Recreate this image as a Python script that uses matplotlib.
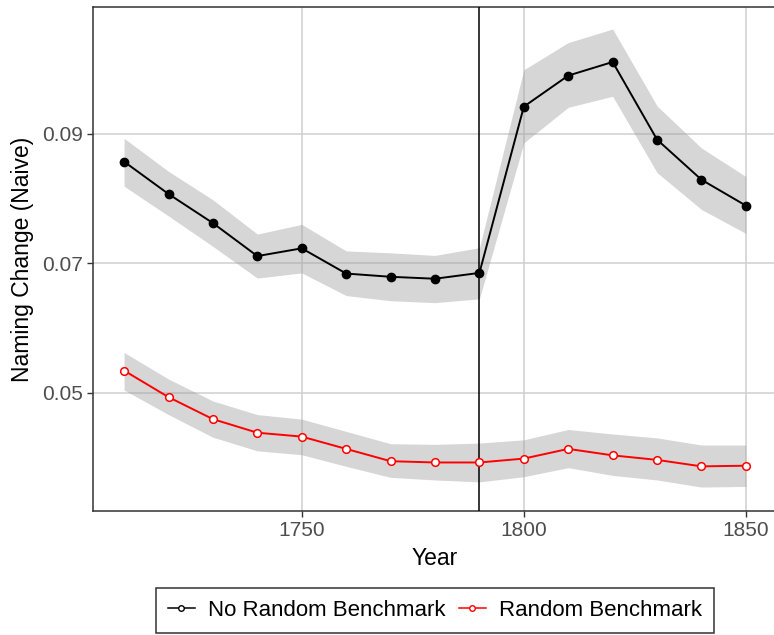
from __future__ import annotations

import matplotlib

matplotlib.use("Agg")
import matplotlib.pyplot as plt
import numpy as np
from matplotlib.lines import Line2D


YEARS = np.arange(1710, 1851, 10)

# Naive naming-change rate, with confidence band, per decade
NO_RANDOM_MEAN = [0.0857, 0.0807, 0.0762, 0.0711, 0.0723, 0.0684, 0.0679, 0.0676,
                  0.0685, 0.0942, 0.0990, 0.1011, 0.0891, 0.0829, 0.0789]
NO_RANDOM_LOW = [0.0819, 0.0773, 0.0726, 0.0677, 0.0685, 0.0650, 0.0642, 0.0639,
                 0.0645, 0.0886, 0.0941, 0.0958, 0.0840, 0.0783, 0.0746]
NO_RANDOM_HIGH = [0.0893, 0.0842, 0.0798, 0.0745, 0.0760, 0.0719, 0.0716, 0.0712,
                  0.0724, 0.0999, 0.1041, 0.1062, 0.0943, 0.0878, 0.0834]

RANDOM_MEAN = [0.0534, 0.0493, 0.0459, 0.0438, 0.0432, 0.0413, 0.0394, 0.0392,
               0.0392, 0.0398, 0.0413, 0.0403, 0.0396, 0.0386, 0.0387]
RANDOM_LOW = [0.0504, 0.0466, 0.0431, 0.0410, 0.0404, 0.0386, 0.0369, 0.0365,
              0.0362, 0.0370, 0.0384, 0.0372, 0.0365, 0.0354, 0.0355]
RANDOM_HIGH = [0.0562, 0.0521, 0.0487, 0.0466, 0.0459, 0.0440, 0.0421, 0.0420,
               0.0422, 0.0427, 0.0443, 0.0436, 0.0430, 0.0419, 0.0419]

BREAK_YEAR = 1790
X_TICKS = [1750, 1800, 1850]
Y_TICKS = [0.05, 0.07, 0.09]
SERIES_LABELS = ("No Random Benchmark", "Random Benchmark")

plt.rcParams["font.family"] = ["Liberation Sans", "DejaVu Sans"]


def plot_naming_change() -> None:
    fig = plt.figure(figsize=(7.74, 6.35), dpi=100)
    ax = fig.add_axes([93 / 774, 1 - 511 / 635, 684 / 774, 504 / 635])

    ax.fill_between(YEARS, NO_RANDOM_LOW, NO_RANDOM_HIGH, color="#999999",
                    alpha=0.4, linewidth=0, zorder=2)
    ax.fill_between(YEARS, RANDOM_LOW, RANDOM_HIGH, color="#999999",
                    alpha=0.4, linewidth=0, zorder=2)

    ax.axvline(BREAK_YEAR, color="black", linewidth=1.1, zorder=3)

    ax.plot(YEARS, NO_RANDOM_MEAN, color="black", linewidth=1.4, marker="o",
            markersize=6, markerfacecolor="black", markeredgecolor="black", zorder=4)
    ax.plot(YEARS, RANDOM_MEAN, color="red", linewidth=1.4, marker="o",
            markersize=5.5, markerfacecolor="white", markeredgecolor="red",
            markeredgewidth=1.1, zorder=4)

    ax.set_xlim(1703, 1857)
    ax.set_ylim(0.0317, 0.1096)
    ax.set_xticks(X_TICKS)
    ax.set_yticks(Y_TICKS)
    ax.set_yticklabels([f"{v:.2f}" for v in Y_TICKS])
    ax.grid(True, color="#d0d0d0", linewidth=1.1, zorder=0)
    ax.set_axisbelow(True)

    for spine in ax.spines.values():
        spine.set_color("#333333")
        spine.set_linewidth(1.1)
    ax.tick_params(axis="both", colors="#333333", length=4, width=1.0,
                   labelsize=15, labelcolor="#4d4d4d", pad=3)

    ax.set_xlabel("Year", fontsize=16.5, labelpad=5)
    ax.set_ylabel("Naming Change (Naive)", fontsize=16.5, labelpad=6)

    handles = [
        Line2D([], [], color="black", linewidth=1.1, marker="o", markersize=4,
               markerfacecolor="white", markeredgecolor="black"),
        Line2D([], [], color="red", linewidth=1.1, marker="o", markersize=4,
               markerfacecolor="white", markeredgecolor="red"),
    ]
    legend = fig.legend(handles, SERIES_LABELS, loc="upper center",
                        bbox_to_anchor=(435 / 774, 1 - 588 / 635), ncol=2,
                        fontsize=16, frameon=True, fancybox=False,
                        handlelength=1.2, handletextpad=0.6, columnspacing=0.6,
                        borderpad=0.55, borderaxespad=0)
    frame = legend.get_frame()
    frame.set_edgecolor("black")
    frame.set_linewidth(1.1)

    fig.savefig("out.png", dpi=100)


def main() -> None:
    plot_naming_change()


if __name__ == "__main__":
    main()
